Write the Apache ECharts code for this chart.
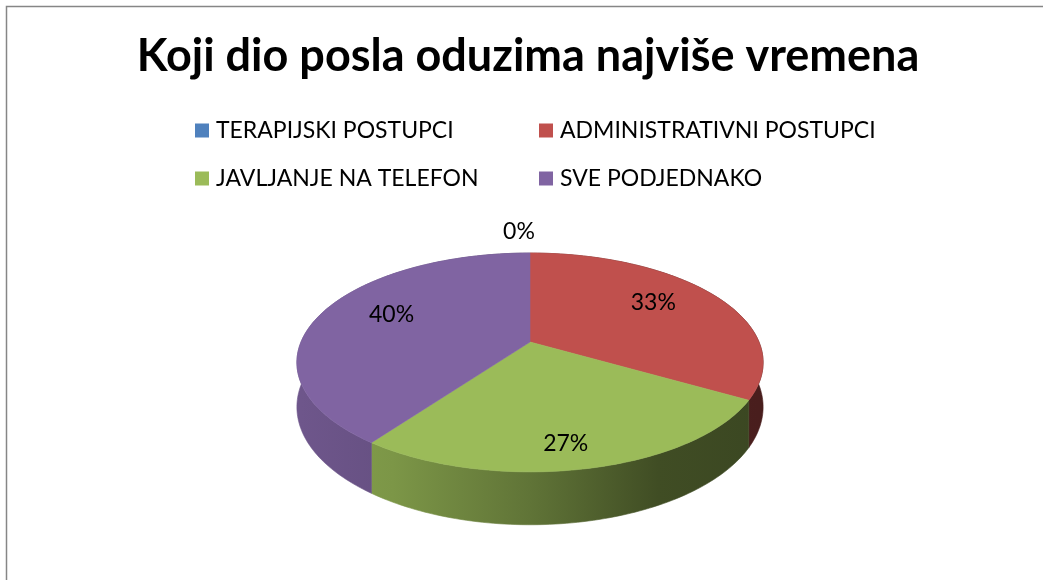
<!DOCTYPE html>
<html>
<head>
<meta charset="utf-8">
<script src="https://cdn.jsdelivr.net/npm/echarts@6/dist/echarts.min.js"></script>
<style>
    html, body { margin: 0; padding: 0; background: #fff; }
    #chart { width: 1043px; height: 580px; }
</style>
</head>
<body>
<div id="chart"></div>
<script>
var titleText = 'Koji dio posla oduzima najviše vremena';
var categories = ['TERAPIJSKI POSTUPCI', 'ADMINISTRATIVNI POSTUPCI', 'JAVLJANJE NA TELEFON', 'SVE PODJEDNAKO'];
var values = [0, 5, 4, 6];
var colors = ['#4f81bd', '#c0504d', '#9bbb59', '#8064a2'];

// 3d pie geometry (pixels)
var CX = 530, CY = 342, RX = 229, RY = 105.6, T = 43, D = 5.35;

var total = 0;
for (var i = 0; i < values.length; i++) total += values[i];

function project(theta, r, h) {
    var x = Math.sin(theta) * r;
    var z = -Math.cos(theta) * r;
    var s = D / (D - z);
    return [CX + RX * x * s, CY + RY * z * s + h * s];
}

function shade(hex, f) {
    var n = parseInt(hex.slice(1), 16);
    var r = Math.round(((n >> 16) & 255) * f);
    var g = Math.round(((n >> 8) & 255) * f);
    var b = Math.round((n & 255) * f);
    return 'rgb(' + r + ',' + g + ',' + b + ')';
}

function sideGradient(hex) {
    return {
        type: 'linear', global: true,
        x: CX - RX, y: 0, x2: CX + RX, y2: 0,
        colorStops: [
            {offset: 0, color: shade(hex, 0.86)},
            {offset: 0.2, color: shade(hex, 0.8)},
            {offset: 0.5, color: shade(hex, 0.62)},
            {offset: 0.78, color: shade(hex, 0.41)},
            {offset: 1, color: shade(hex, 0.38)}
        ]
    };
}

function renderSlice(idx) {
    return function (params, api) {
        var before = 0;
        for (var k = 0; k < idx; k++) before += values[k];
        var a0 = before / total * Math.PI * 2;
        var a1 = (before + values[idx]) / total * Math.PI * 2;
        var steps = Math.max(2, Math.ceil((a1 - a0) / 0.02));
        var top = [[CX, CY]];
        var rimTop = [], rimBottom = [];
        for (var s = 0; s <= steps; s++) {
            var t = a0 + (a1 - a0) * s / steps;
            top.push(project(t, 1, 0));
            rimTop.push(project(t, 1, 0));
            rimBottom.unshift(project(t, 1, T));
        }
        var children = [];
        if (values[idx] > 0) {
            var grad = sideGradient(colors[idx]);
            children.push({
                type: 'polygon', z2: 1,
                shape: {points: rimTop.concat(rimBottom)},
                style: {fill: grad, stroke: grad, lineWidth: 0.6}
            });
            children.push({
                type: 'polygon', z2: 10,
                shape: {points: top},
                style: {fill: colors[idx], stroke: colors[idx], lineWidth: 0.6}
            });
        }
        var mid = (a0 + a1) / 2;
        var pos, dx = 0, dy = 0;
        if (values[idx] > 0) {
            // front slices sit lower: their label follows the visible side too
            pos = project(mid, 0.66, T * 0.65 * Math.max(0, -Math.cos(mid)));
            dy = -7;
        } else {
            pos = project(mid, 1, 0);
            dx = -11;
            dy = -21;
        }
        children.push({
            type: 'text', z2: 20,
            style: {
                text: Math.round(values[idx] / total * 100) + '%',
                x: pos[0] + dx, y: pos[1] + dy,
                fill: '#000',
                fontSize: 23, fontFamily: 'Lato',
                align: 'center', verticalAlign: 'middle'
            }
        });
        return {type: 'group', children: children};
    };
}

var series = [];
for (var j = 0; j < categories.length; j++) {
    series.push({
        name: categories[j],
        type: 'custom',
        coordinateSystem: 'none',
        silent: true,
        itemStyle: {color: colors[j]},
        renderItem: renderSlice(j),
        data: [values[j]]
    });
}

function legendItems(list) {
    return list.map(function (k) {
        return {name: categories[k], itemStyle: {color: colors[k]}};
    });
}

var legendCommon = {
    orient: 'vertical',
    top: 119,
    padding: 0,
    itemGap: 25,
    itemWidth: 14,
    itemHeight: 14,
    icon: 'rect',
    selectedMode: false,
    textStyle: {fontFamily: 'Lato', fontSize: 23, color: '#000', lineHeight: 21, padding: [0, 0, 0, 2]}
};

var option = {
    animation: false,
    backgroundColor: '#fff',
    title: {
        text: titleText,
        left: 523,
        top: 29,
        textAlign: 'center',
        padding: 5,
        textStyle: {fontFamily: 'Lato', fontWeight: 'bold', fontSize: 45, color: '#000'}
    },
    legend: [
        Object.assign({left: 195, data: legendItems([0, 2])}, legendCommon),
        Object.assign({left: 539, data: legendItems([1, 3])}, legendCommon)
    ],
    graphic: [{
        type: 'rect', silent: true,
        shape: {x: 6.5, y: 6.5, width: 1100, height: 700},
        style: {fill: null, stroke: '#868686', lineWidth: 1.5}
    }],
    series: series
};

var myChart = echarts.init(document.getElementById('chart'));
myChart.setOption(option);
</script>
</body>
</html>
